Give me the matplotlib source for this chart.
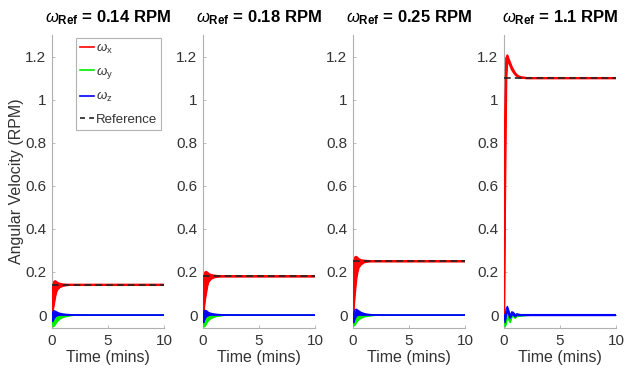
import matplotlib
matplotlib.use("Agg")
import matplotlib.pyplot as plt
from matplotlib.lines import Line2D

plt.rcParams['font.family'] = ['Liberation Sans', 'DejaVu Sans']
plt.rcParams['mathtext.fontset'] = 'custom'
plt.rcParams['mathtext.rm'] = 'Liberation Sans'
plt.rcParams['mathtext.it'] = 'Liberation Sans:italic'
plt.rcParams['mathtext.bf'] = 'Liberation Sans:bold'

# ---------------- data ----------------
ref_values = [0.14, 0.18, 0.25, 1.1]
ref_labels = ["0.14", "0.18", "0.25", "1.1"]

t_a = [0, 0.05, 0.1, 0.2, 0.3, 0.4, 0.5, 0.7, 1.0, 1.3, 1.6, 2.0, 3.0, 10.0]

# panel 1 (0.14 RPM)
red1_hi = [0, 0.09, 0.13, 0.155, 0.157, 0.153, 0.149, 0.145, 0.142, 0.141, 0.14, 0.14, 0.14, 0.14]
red1_lo = [0, 0.01, 0.03, 0.06, 0.09, 0.11, 0.12, 0.13, 0.136, 0.139, 0.14, 0.14, 0.14, 0.14]
grn1_hi = [0, -0.005, -0.01, -0.008, -0.005, -0.003, -0.002, -0.001, 0, 0, 0, 0, 0, 0]
grn1_lo = [0, -0.04, -0.055, -0.05, -0.042, -0.035, -0.028, -0.018, -0.01, -0.006, -0.003, -0.001, 0, 0]
blu1_hi = [0, 0.01, 0.018, 0.02, 0.018, 0.015, 0.012, 0.008, 0.005, 0.003, 0.002, 0.001, 0, 0]
blu1_lo = [0, -0.03, -0.025, -0.015, -0.008, -0.004, -0.002, 0, 0, 0, 0, 0, 0, 0]

# panel 2 (0.18 RPM)
red2_hi = [0, 0.12, 0.17, 0.198, 0.2, 0.196, 0.191, 0.186, 0.183, 0.181, 0.18, 0.18, 0.18, 0.18]
red2_lo = [0, 0.01, 0.04, 0.08, 0.11, 0.14, 0.155, 0.168, 0.175, 0.178, 0.18, 0.18, 0.18, 0.18]
grn2_hi = [0, -0.005, -0.01, -0.006, -0.004, -0.002, -0.001, 0, 0, 0, 0, 0, 0, 0]
grn2_lo = [0, -0.04, -0.055, -0.05, -0.04, -0.032, -0.025, -0.016, -0.009, -0.005, -0.003, -0.001, 0, 0]
blu2_hi = [0, 0.012, 0.02, 0.022, 0.02, 0.016, 0.012, 0.008, 0.005, 0.003, 0.002, 0.001, 0, 0]
blu2_lo = [0, -0.035, -0.028, -0.015, -0.008, -0.004, -0.002, 0, 0, 0, 0, 0, 0, 0]

# panel 3 (0.25 RPM)
red3_hi = [0, 0.17, 0.24, 0.268, 0.27, 0.265, 0.26, 0.255, 0.252, 0.251, 0.25, 0.25, 0.25, 0.25]
red3_lo = [0, 0.02, 0.06, 0.12, 0.17, 0.2, 0.22, 0.235, 0.245, 0.248, 0.25, 0.25, 0.25, 0.25]
grn3_hi = [0, -0.005, 0.0, 0.008, 0.01, 0.008, 0.005, 0.002, 0, 0, 0, 0, 0, 0]
grn3_lo = [0, -0.045, -0.05, -0.045, -0.035, -0.028, -0.022, -0.015, -0.008, -0.005, -0.003, -0.001, 0, 0]
blu3_hi = [0, 0.005, 0.015, 0.025, 0.027, 0.024, 0.02, 0.013, 0.007, 0.004, 0.002, 0.001, 0, 0]
blu3_lo = [0, -0.035, -0.03, -0.015, -0.005, -0.002, 0, 0, 0, 0, 0, 0, 0, 0]

# panel 4 (1.1 RPM)
t_b = [0, 0.1, 0.2, 0.3, 0.4, 0.55, 0.7, 0.85, 1.0, 1.15, 1.3, 1.5, 2.0, 3.0, 10.0]
red4_hi = [0, 0.9, 1.19, 1.205, 1.19, 1.17, 1.15, 1.135, 1.122, 1.114, 1.108, 1.104, 1.1, 1.1, 1.1]
red4_lo = [0, 0.6, 1.1, 1.185, 1.18, 1.16, 1.14, 1.128, 1.117, 1.11, 1.106, 1.102, 1.1, 1.1, 1.1]
grn4_hi = [0, -0.02, 0.01, 0.02, 0.01, -0.01, 0.01, 0.008, -0.002, 0.004, 0.002, 0.001, 0, 0, 0]
grn4_lo = [0, -0.055, -0.04, -0.01, -0.02, -0.035, -0.01, -0.005, -0.015, -0.005, -0.006, -0.004, -0.002, 0, 0]
blu4_hi = [0, -0.005, 0.03, 0.04, 0.025, -0.002, 0.015, 0.012, 0.0, 0.006, 0.004, 0.002, 0.002, 0.002, 0.002]
blu4_lo = [0, -0.035, 0.0, 0.02, 0.005, -0.015, 0.0, 0.0, -0.008, 0.0, -0.002, -0.002, -0.002, -0.002, -0.002]

panels = [
    (t_a, red1_hi, red1_lo, grn1_hi, grn1_lo, blu1_hi, blu1_lo),
    (t_a, red2_hi, red2_lo, grn2_hi, grn2_lo, blu2_hi, blu2_lo),
    (t_a, red3_hi, red3_lo, grn3_hi, grn3_lo, blu3_hi, blu3_lo),
    (t_b, red4_hi, red4_lo, grn4_hi, grn4_lo, blu4_hi, blu4_lo),
]

x_ticks = [0, 5, 10]
y_ticks = [0, 0.2, 0.4, 0.6, 0.8, 1.0, 1.2]
y_ticklabels = ["0", "0.2", "0.4", "0.6", "0.8", "1", "1.2"]

# ---------------- figure ----------------
W, H = 626, 372
fig = plt.figure(figsize=(W / 100, H / 100), dpi=100)

lefts = [52, 203, 353, 504]
ax_w = 112
ax_top, ax_bot = 35, 328

RED, GRN, BLU = "#ff0000", "#00ee00", "#0000ff"
SPINE = "#b0b0b0"
TXT = "#333333"

for i, (t, rh, rl, gh, gl, bh, bl) in enumerate(panels):
    ax = fig.add_axes([lefts[i] / W, 1 - ax_bot / H, ax_w / W, (ax_bot - ax_top) / H])
    ref = ref_values[i]
    ax.fill_between(t, rl, rh, color=RED, lw=0, zorder=3)
    ax.plot(t, rh, color=RED, lw=1.6, zorder=3)
    ax.plot(t, rl, color=RED, lw=1.6, zorder=3)
    ax.fill_between(t, gl, gh, color=GRN, lw=0, zorder=3)
    ax.plot(t, gh, color=GRN, lw=1.0, zorder=3)
    ax.plot(t, gl, color=GRN, lw=1.0, zorder=3)
    ax.fill_between(t, bl, bh, color=BLU, lw=0, zorder=3)
    ax.plot(t, bh, color=BLU, lw=1.0, zorder=3)
    ax.plot(t, bl, color=BLU, lw=1.0, zorder=3)
    ax.plot([0, 10], [ref, ref], color="#222222", lw=1.2, ls=(0, (4, 2.5)), zorder=4)

    ax.set_xlim(0, 10)
    ax.set_ylim(-0.06, 1.3)
    ax.set_xticks(x_ticks)
    ax.set_yticks(y_ticks)
    ax.set_yticklabels(y_ticklabels)
    for s in ["top", "right"]:
        ax.spines[s].set_visible(False)
    for s in ["left", "bottom"]:
        ax.spines[s].set_color(SPINE)
        ax.spines[s].set_linewidth(0.8)
        ax.spines[s].set_zorder(1)
    ax.tick_params(direction="in", length=2.5, width=0.6, color=SPINE,
                   labelsize=11, labelcolor=TXT, pad=4)
    ax.set_xlabel("Time (mins)", fontsize=11.5, color=TXT, labelpad=2)
    ax.set_title(r"$\omega_{\mathbf{Ref}}$" + " = " + ref_labels[i] + " RPM",
                 fontsize=12, fontweight="bold", color="#000000", pad=9)
    if i == 0:
        ax.set_ylabel("Angular Velocity (RPM)", fontsize=11.5, color=TXT, labelpad=1)
        handles = [
            Line2D([], [], color=RED, lw=1.2),
            Line2D([], [], color=GRN, lw=1.2),
            Line2D([], [], color=BLU, lw=1.2),
            Line2D([], [], color="#222222", lw=1.2, ls=(0, (3, 2.5))),
        ]
        labels = [r"$\omega_\mathrm{x}$", r"$\omega_\mathrm{y}$", r"$\omega_\mathrm{z}$", "Reference"]
        leg = ax.legend(handles, labels, loc="upper right", bbox_to_anchor=(1.0, 1.0),
                        fontsize=9.5, handlelength=1.1, handletextpad=0.15,
                        labelspacing=0.7, borderpad=0.3, borderaxespad=0.2,
                        frameon=True, fancybox=False)
        leg.get_frame().set_edgecolor("#a0a0a0")
        leg.get_frame().set_linewidth(0.8)
        leg.set_zorder(10)
        for txt in leg.get_texts():
            txt.set_color(TXT)

fig.savefig("out.png", dpi=100)
